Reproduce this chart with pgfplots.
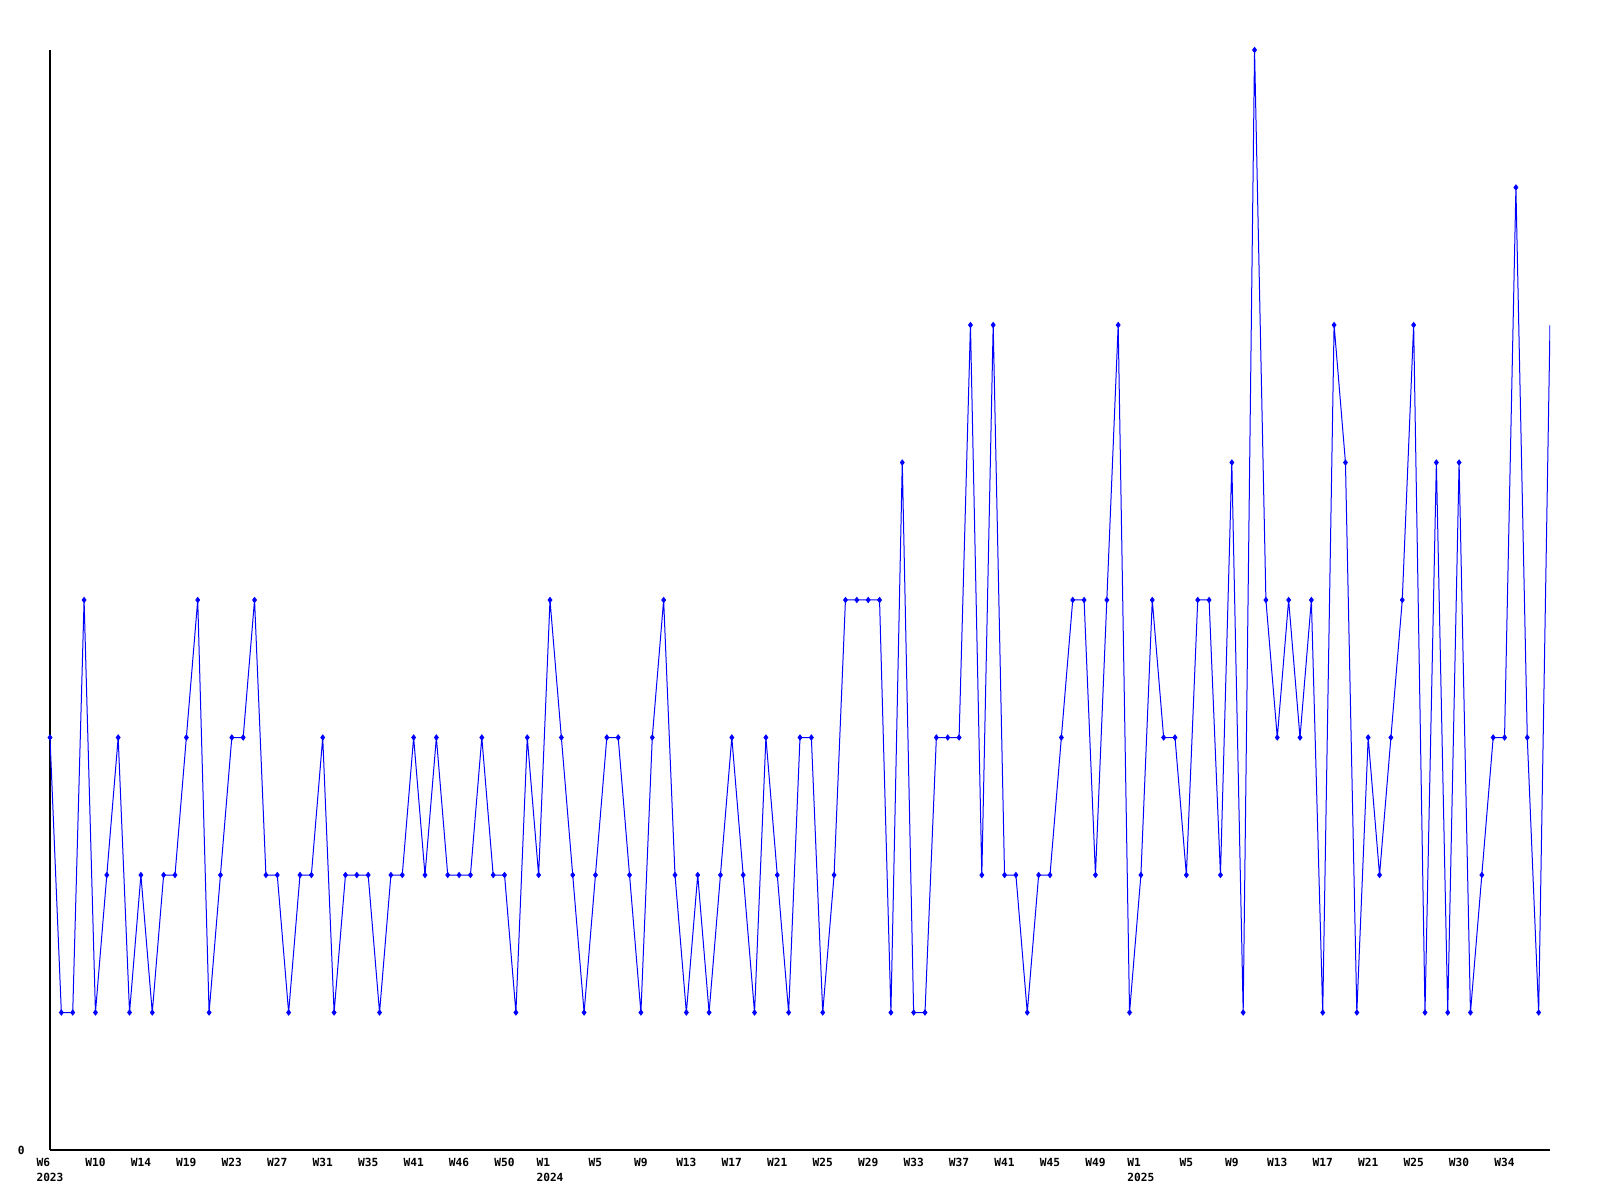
\documentclass[border=0pt]{standalone}
\usepackage{pgfplots}
\usepackage{pgfplotstable}
\pgfplotsset{compat=1.18}
\usepackage{fontspec}
\setmonofont{DejaVu Sans Mono}
\pgfplotstableread{
x y
0 3
1 1
2 1
3 4
4 1
5 2
6 3
7 1
8 2
9 1
10 2
11 2
12 3
13 4
14 1
15 2
16 3
17 3
18 4
19 2
20 2
21 1
22 2
23 2
24 3
25 1
26 2
27 2
28 2
29 1
30 2
31 2
32 3
33 2
34 3
35 2
36 2
37 2
38 3
39 2
40 2
41 1
42 3
43 2
44 4
45 3
46 2
47 1
48 2
49 3
50 3
51 2
52 1
53 3
54 4
55 2
56 1
57 2
58 1
59 2
60 3
61 2
62 1
63 3
64 2
65 1
66 3
67 3
68 1
69 2
70 4
71 4
72 4
73 4
74 1
75 5
76 1
77 1
78 3
79 3
80 3
81 6
82 2
83 6
84 2
85 2
86 1
87 2
88 2
89 3
90 4
91 4
92 2
93 4
94 6
95 1
96 2
97 4
98 3
99 3
100 2
101 4
102 4
103 2
104 5
105 1
106 8
107 4
108 3
109 4
110 3
111 4
112 1
113 6
114 5
115 1
116 3
117 2
118 3
119 4
120 6
121 1
122 5
123 1
124 5
125 1
126 2
127 3
128 3
129 7
130 3
131 1
132 6
}\datatable
\begin{document}
\begin{tikzpicture}
\useasboundingbox (-25pt,-25pt) rectangle (775pt,575pt);
\begin{axis}[
  at={(0,0)}, anchor=south west,
  scale only axis, width=750pt, height=550pt,
  xmin=0, xmax=132, ymin=0, ymax=8,
  axis lines=left,
  axis line style={-, black, line width=0.6pt},
  xtick={0,4,...,128},
  xticklabels={{W6\\2023},W10,W14,W19,W23,W27,W31,W35,W41,W46,W50,{W1\\2024},W5,W9,W13,W17,W21,W25,W29,W33,W37,W41,W45,W49,{W1\\2025},W5,W9,W13,W17,W21,W25,W30,W34},
  ytick={0}, yticklabels={0},
  major tick length=0pt,
  tick label style={font=\ttfamily\bfseries\fontsize{5.6}{7.3}\selectfont},
  xticklabel style={align=left, anchor=north, inner sep=0pt, yshift=-4pt},
  yticklabel style={anchor=east, inner sep=0pt, xshift=-12.5pt},
]
\addplot[color={rgb,255:red,0;green,0;blue,255}, line width=0.5pt, mark=none] table {\datatable};
\addplot[color={rgb,255:red,0;green,0;blue,255}, only marks, mark=diamond*, mark size=1.3pt, restrict x to domain=0:131] table {\datatable};
\end{axis}
\end{tikzpicture}
\end{document}
